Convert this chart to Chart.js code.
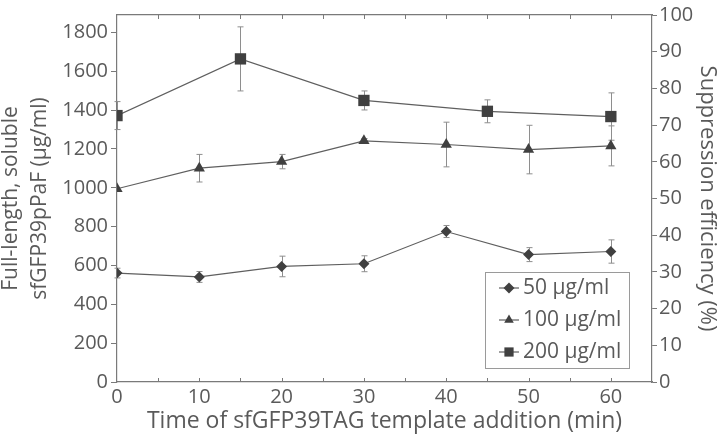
<!DOCTYPE html>
<html>
<head>
<meta charset="utf-8">
<script src="https://cdn.jsdelivr.net/npm/chart.js@4"></script>
<style>
  html, body { margin: 0; padding: 0; background: #fff; }
</style>
</head>
<body>
<canvas id="chart" width="720" height="439"></canvas>
<script>
// data (left axis units, µg/ml)
const times50 = [0, 10, 20, 30, 40, 50, 60];
const vals50 = [561, 541, 595, 609, 775, 656, 672];
const err50 = [25, 28, 53, 41, 31, 36, 60];

const times100 = [0, 10, 20, 30, 40, 50, 60];
const vals100 = [995, 1101, 1135, 1242, 1223, 1197, 1216];
const err100 = [0, 71, 37, 12, 115, 125, 103];

const times200 = [0, 15, 30, 45, 60];
const vals200 = [1372, 1664, 1450, 1394, 1367];
const err200 = [72, 165, 49, 59, 122];

const seriesLabels = ['50 µg/ml', '100 µg/ml', '200 µg/ml'];
const xTicks = [0, 10, 20, 30, 40, 50, 60];
const yLeftTicks = [0, 200, 400, 600, 800, 1000, 1200, 1400, 1600, 1800];

const FONT = '"Open Sans", "DejaVu Sans", sans-serif';
const TXT = '#5a5a5a';
const AXIS = '#7a7a7a';
const MARK = '#404040';
const LINE = '#5f5f5f';
const ERR = '#8e8e8e';

function pts(xs, ys){ return xs.map((x, i) => ({ x, y: ys[i] })); }

function series(label, xs, ys, errs, style, radius){
  return {
    label, data: pts(xs, ys), errors: errs, yAxisID: 'y',
    borderColor: LINE, borderWidth: 1.2, tension: 0,
    pointStyle: style, pointRadius: radius, pointHoverRadius: radius,
    pointBackgroundColor: MARK, pointBorderColor: MARK, pointBorderWidth: 0
  };
}

// error bars, drawn under the markers
const errorBars = {
  id: 'errorBars',
  beforeDatasetsDraw(chart){
    const ctx = chart.ctx, ys = chart.scales.y, xs = chart.scales.x;
    ctx.save();
    ctx.strokeStyle = ERR; ctx.lineWidth = 1;
    chart.data.datasets.forEach(ds => {
      ds.data.forEach((p, i) => {
        const e = ds.errors[i];
        if (!e) return;
        const px = Math.round(xs.getPixelForValue(p.x)) + 0.5;
        const top = ys.getPixelForValue(p.y + e), bot = ys.getPixelForValue(p.y - e);
        ctx.beginPath();
        ctx.moveTo(px, top); ctx.lineTo(px, bot);
        ctx.moveTo(px - 3, top); ctx.lineTo(px + 3, top);
        ctx.moveTo(px - 3, bot); ctx.lineTo(px + 3, bot);
        ctx.stroke();
      });
    });
    ctx.restore();
  }
};

// inward tick marks on bottom and top x axes (every 5 min)
const xInnerTicks = {
  id: 'xInnerTicks',
  afterDraw(chart){
    const ctx = chart.ctx, xs = chart.scales.x, a = chart.chartArea;
    ctx.save();
    ctx.strokeStyle = AXIS; ctx.lineWidth = 1;
    ctx.beginPath();
    for (let v = 5; v <= 60; v += 5) {
      const px = Math.round(xs.getPixelForValue(v)) + 0.5;
      ctx.moveTo(px, a.bottom); ctx.lineTo(px, a.bottom - 4);
      ctx.moveTo(px, a.top); ctx.lineTo(px, a.top + 4);
    }
    ctx.stroke();
    ctx.restore();
  }
};

function marker(ctx, style, x, y, r){
  ctx.beginPath();
  if (style === 'rectRot') {
    ctx.moveTo(x, y - r); ctx.lineTo(x + r, y); ctx.lineTo(x, y + r); ctx.lineTo(x - r, y);
  } else if (style === 'triangle') {
    ctx.moveTo(x, y - r); ctx.lineTo(x + r * 0.87, y + r * 0.5); ctx.lineTo(x - r * 0.87, y + r * 0.5);
  } else {
    const s = r * 0.71;
    ctx.rect(x - s, y - s, 2 * s, 2 * s);
  }
  ctx.closePath();
  ctx.fill();
}

// boxed legend in the lower right of the plot
const boxLegend = {
  id: 'boxLegend',
  afterDraw(chart){
    const ctx = chart.ctx, a = chart.chartArea;
    const x0 = a.right - 167, x1 = a.right - 23, y0 = a.bottom - 110, y1 = a.bottom - 14;
    ctx.save();
    ctx.strokeStyle = '#9a9a9a'; ctx.lineWidth = 1;
    ctx.strokeRect(x0 + 0.5, y0 + 0.5, x1 - x0, y1 - y0);
    ctx.font = '21px ' + FONT;
    ctx.textBaseline = 'middle';
    chart.data.datasets.forEach((ds, i) => {
      const cy = y0 + 16 + i * 32;
      const cx = x0 + 24;
      ctx.strokeStyle = LINE; ctx.lineWidth = 1.2;
      ctx.beginPath(); ctx.moveTo(cx - 10, cy); ctx.lineTo(cx + 10, cy); ctx.stroke();
      ctx.fillStyle = MARK;
      marker(ctx, ds.pointStyle, cx, cy, ds.pointStyle === 'rect' ? 6.5 : 5.5);
      ctx.fillStyle = TXT;
      ctx.fillText(ds.label, x0 + 38, cy);
    });
    ctx.restore();
  }
};

new Chart(document.getElementById('chart'), {
  type: 'line',
  data: {
    datasets: [
      series(seriesLabels[0], times50, vals50, err50, 'rectRot', 5.5),
      series(seriesLabels[1], times100, vals100, err100, 'triangle', 6.5),
      series(seriesLabels[2], times200, vals200, err200, 'rect', 8)
    ]
  },
  options: {
    responsive: false,
    animation: false,
    layout: { padding: { top: 12 } },
    plugins: { legend: { display: false }, tooltip: { enabled: false } },
    scales: {
      x: {
        type: 'linear', position: 'bottom', min: 0, max: 65,
        afterBuildTicks: s => { s.ticks = xTicks.map(v => ({ value: v })); },
        grid: { display: false, drawTicks: false },
        border: { color: AXIS, width: 1.2 },
        ticks: { color: TXT, font: { family: FONT, size: 20 }, padding: 3, maxRotation: 0,
                 callback: v => String(v) },
        title: { display: true, text: 'Time of sfGFP39TAG template addition (min)', color: TXT,
                 font: { family: FONT, size: 23 }, padding: { top: 0, bottom: 4 } },
        afterFit: s => { s.height = 57; }
      },
      xTop: {
        type: 'linear', position: 'top', min: 0, max: 65,
        grid: { display: false, drawTicks: false },
        border: { color: AXIS, width: 1.2 },
        ticks: { display: false },
        afterFit: s => { s.height = 0; }
      },
      y: {
        position: 'left', min: 0, max: 1890,
        afterBuildTicks: s => { s.ticks = yLeftTicks.map(v => ({ value: v })); },
        grid: { drawOnChartArea: false, tickLength: 6, color: AXIS },
        border: { color: AXIS, width: 1.2 },
        ticks: { color: TXT, font: { family: FONT, size: 20 }, padding: 3, callback: v => String(v) },
        title: { display: true, text: ['Full-length, soluble', 'sfGFP39pPaF (µg/ml)'], color: TXT,
                 font: { family: FONT, size: 21, lineHeight: 1.38 }, padding: { top: -3, bottom: 0 } },
        afterFit: s => { s.width = 117; }
      },
      y2: {
        position: 'right', min: 0, max: 100,
        grid: { drawOnChartArea: false, tickLength: 5, color: AXIS },
        border: { color: AXIS, width: 1.2 },
        ticks: { stepSize: 10, color: TXT, font: { family: FONT, size: 20 }, padding: 2 },
        title: { display: true, text: 'Suppression efficiency (%)', color: TXT,
                 font: { family: FONT, size: 22 }, padding: { top: 0, bottom: 0 } },
        afterFit: s => { s.width = 68; }
      }
    }
  },
  plugins: [errorBars, xInnerTicks, boxLegend]
});
</script>
</body>
</html>
